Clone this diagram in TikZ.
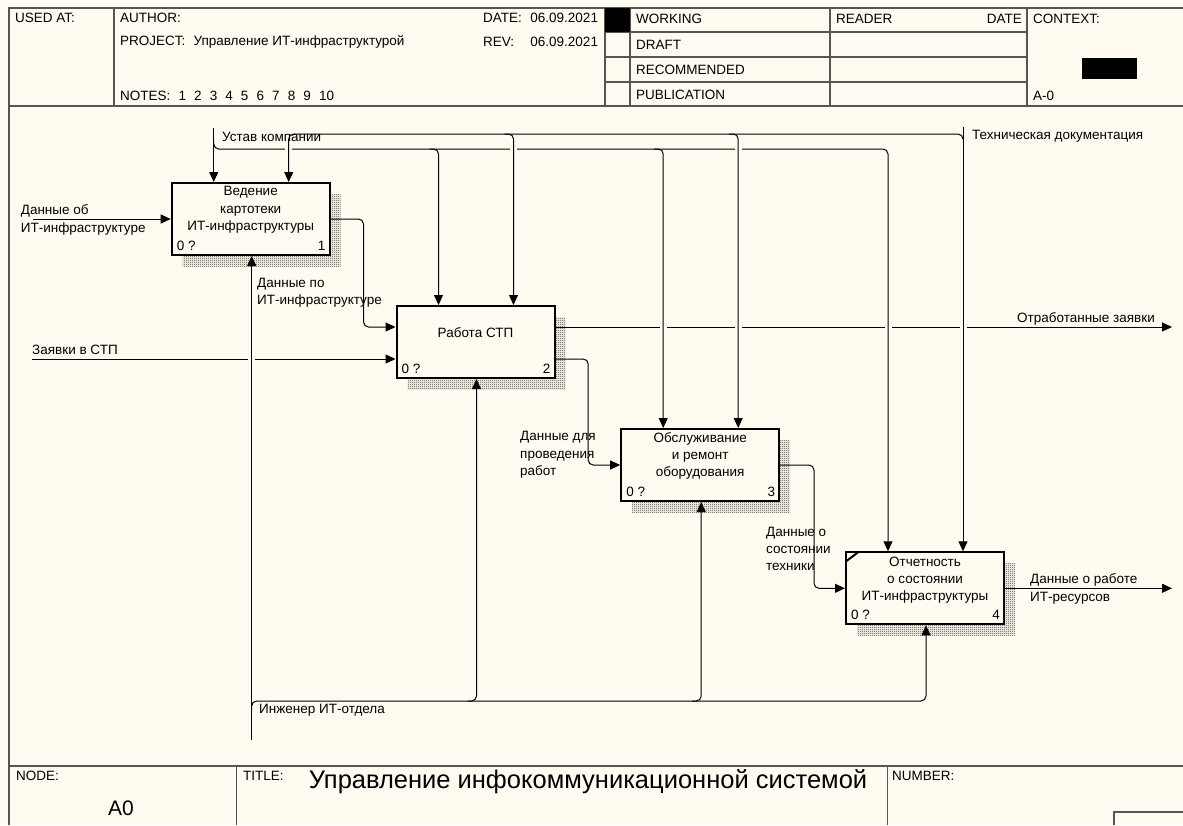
\documentclass[tikz,border=0pt]{standalone}
\usepackage{fontspec}
\setmainfont{Liberation Sans}
\usetikzlibrary{arrows.meta, calc, patterns, shadows, positioning}
\definecolor{paper}{RGB}{255,251,240}
\definecolor{rule}{RGB}{85,85,85}
\newcommand\lblfont{\fontsize{13.5}{17.3}\selectfont}
\pgfdeclarepatternformonly{checker}{\pgfqpoint{0pt}{0pt}}{\pgfqpoint{2pt}{2pt}}{\pgfqpoint{2pt}{2pt}}{%
  \pgfpathrectangle{\pgfqpoint{0pt}{0pt}}{\pgfqpoint{1pt}{1pt}}%
  \pgfpathrectangle{\pgfqpoint{1pt}{1pt}}{\pgfqpoint{1pt}{1pt}}%
  \pgfusepath{fill}}

\begin{document}
\begin{tikzpicture}[x=1pt, y=-1pt,
  txt/.style={font=\lblfont, inner sep=0pt, align=left},
  acttxt/.style={font=\lblfont, inner sep=0pt, align=center},
  actbox/.style={draw, line width=2pt, fill=paper, minimum width=158pt, minimum height=72pt,
    drop shadow={shadow xshift=11pt, shadow yshift=-11pt, opacity=1, pattern=checker, pattern color=black!75}},
  flow/.style={-{Triangle[length=10pt,width=9pt]}, line width=1pt, rounded corners=5pt},
  grid/.style={line width=1.5pt, draw=rule},
  frame/.style={line width=2.5pt, draw=rule},
  gap/.style={fill=paper}
]
  \fill[paper] (0,0) rectangle (1183,825);
  \useasboundingbox (0,0) rectangle (1183,825);

  % title block
  \draw[frame] (9,825) |- (1183,8);
  \draw[grid] (9,106) -- (1183,106) (9,766) -- (1183,766);
  \foreach \x in {114,605,630,830,1027} { \draw[grid] (\x,8) -- (\x,106); }
  \foreach \y in {32,57,82} { \draw[grid] (605,\y) -- (1027,\y); }
  \foreach \x in {236.5,887.5} { \draw[grid] (\x,766) -- (\x,825); }
  \draw[grid] (1114,825) |- (1183,812);
  \fill (605,8) rectangle (630,32);
  \fill (1082,58) rectangle (1137,79);

  \node[txt, anchor=west] (usedat) at (15,18) {USED AT:};
  \node[txt, anchor=west] (author) at (120,18) {AUTHOR:};
  \node[txt, anchor=west] (project) at (120,42) {PROJECT:\hspace{0.6em}Управление ИТ-инфраструктурой};
  \node[txt, anchor=west] (notes) at (120,96) {NOTES:\hspace{0.6em}1\hspace{0.6em}2\hspace{0.6em}3\hspace{0.6em}4\hspace{0.6em}5\hspace{0.6em}6\hspace{0.6em}7\hspace{0.6em}8\hspace{0.6em}9\hspace{0.6em}10};
  \node[txt, anchor=west] (date) at (483,18) {\makebox[3.5em][l]{DATE:}06.09.2021};
  \node[txt, anchor=west] (rev) at (483,42) {\makebox[3.5em][l]{REV:}06.09.2021};
  \node[txt, anchor=west] (working) at (636,19) {WORKING};
  \node[txt, anchor=west] (draft) at (636,44.5) {DRAFT};
  \node[txt, anchor=west] (recom) at (636,69.5) {RECOMMENDED};
  \node[txt, anchor=west] (publ) at (636,95) {PUBLICATION};
  \node[txt, anchor=west] (reader) at (836,19) {READER};
  \node[txt, anchor=east] (rdate) at (1022,19) {DATE};
  \node[txt, anchor=west] (context) at (1033,19) {CONTEXT:};
  \node[txt, anchor=west] (ctxnode) at (1033,96) {A-0};

  \node[txt, anchor=west] (nodelbl) at (16,776) {NODE:};
  \node[txt, font=\fontsize{21}{21}\selectfont] (nodeno) at (121,808) {A0};
  \node[txt, anchor=west] (titlelbl) at (243,776) {TITLE:};
  \node[txt, font=\fontsize{25.5}{25.5}\selectfont] (title) at (588,782) {Управление инфокоммуникационной системой};
  \node[txt, anchor=west] (numlbl) at (892,776) {NUMBER:};

  % activity boxes
  \node[actbox] (b1) at (250.7,219) {};
  \node[actbox] (b2) at (475.5,342) {};
  \node[actbox] (b3) at (700.2,465) {};
  \node[actbox] (b4) at (925,588.3) {};
  \draw[line width=2pt] ($(b4.north west)+(1,10)$) -- ($(b4.north west)+(13,1)$);

  \node[acttxt] (b1t) at ($(b1)+(0,-9)$) {Ведение\\картотеки\\ИТ-инфраструктуры};
  \node[acttxt] (b2t) at ($(b2)+(0,-9)$) {Работа СТП};
  \node[acttxt] (b3t) at ($(b3)+(0,-9)$) {Обслуживание\\и ремонт\\оборудования};
  \node[acttxt] (b4t) at ($(b4)+(0,-8)$) {Отчетность\\о состоянии\\ИТ-инфраструктуры};
  \foreach \b/\n in {b1/1,b2/2,b3/3,b4/4} {
    \node[txt, anchor=base west] (\b z) at ($(\b.south west)+(6,-5.5)$) {0 ?};
    \node[txt, anchor=base east] (\b n) at ($(\b.south east)+(-5,-5.5)$) {\n};
    \coordinate (\b cu) at ($(\b.north)+(-37,0)$);
    \coordinate (\b ct) at ($(\b.north)+(38,0)$);
    \coordinate (\b m) at ($(\b.south)+(1,0)$);
  }

  \coordinate (i1) at (33,219);
  \coordinate (i2) at (32,359);
  \coordinate (o1) at (1172,327);
  \coordinate (o2) at (1172,588.3);
  \coordinate (c1) at ($(b1cu)+(0,-54)$);
  \coordinate (c2) at ($(b4ct)+(0,-424)$);
  \coordinate (m1) at ($(b1m)+(0,484)$);
  \coordinate (ubus) at (0,149);
  \coordinate (tbus) at (0,134);
  \coordinate (mbus) at (0,701);

  % inputs and outputs
  \draw[flow] (i1) -- (b1.west);
  \draw[flow] (i2) -- ($(b2.west)+(0,17)$);
  \draw[flow] (b1.east) -| ($(b2.west)+(-32,-15)$) -- ($(b2.west)+(0,-15)$);
  \draw[flow] ($(b2.east)+(0,-15)$) -- (o1);
  \draw[flow] ($(b2.east)+(0,17)$) -| ($(b3.west)+(-32,0)$) -- (b3.west);
  \draw[flow] (b3.east) -| ($(b4.west)+(-31,0)$) -- (b4.west);
  \draw[flow] (b4.east) -- (o2);

  \foreach \c in {b3cu,b3ct,b4cu,b4ct} { \fill[gap] ($(\c |- o1)+(-3.5,-4)$) rectangle ($(\c |- o1)+(3.5,4)$); }
  \fill[gap] ($(m1 |- i2)+(-3.5,-4)$) rectangle ($(m1 |- i2)+(3.5,4)$);

  % controls
  \draw[flow] (c1) -- (b1cu);
  \draw[flow] ($(c1)+(0,12)$) |- (b4cu |- ubus) -- (b4cu);
  \foreach \b in {b2,b3} { \draw[flow] ($(\b cu |- ubus)+(-9,0)$) -| (\b cu); }
  \foreach \c in {b1ct,b2ct,b3ct} { \fill[gap] ($(\c |- ubus)+(-3.5,-4)$) rectangle ($(\c |- ubus)+(3.5,4)$); }
  \draw[flow] ($(c2)+(0,12)$) |- (b1ct |- tbus) -- (b1ct);
  \foreach \b in {b2,b3} { \draw[flow] ($(\b ct |- tbus)+(-9,0)$) -| (\b ct); }
  \draw[flow] (c2) -- (b4ct);

  % mechanism
  \draw[flow] (m1) -- (b1m);
  \draw[flow] ($(m1 |- mbus)+(0,9)$) |- (b4m |- mbus) -- (b4m);
  \foreach \b in {b2,b3} { \draw[flow] ($(\b m |- mbus)+(-9,0)$) -| (\b m); }

  % arrow labels
  \node[txt, anchor=west] (l1) at (20.7,220) {Данные об\\ИТ-инфраструктуре};
  \node[txt, anchor=west] (l2) at (257,293) {Данные по\\ИТ-инфраструктуре};
  \node[txt, anchor=base west] (l3) at (32,354) {Заявки в СТП};
  \node[txt, anchor=base east] (l4) at (1155,322) {Отработанные заявки};
  \node[txt, anchor=west] (l5) at (520,455) {Данные для\\проведения\\работ};
  \node[txt, anchor=west] (l6) at (766,549) {Данные о\\состоянии\\техники};
  \node[txt, anchor=west] (l7) at (1030,589) {Данные о работе\\ИТ-ресурсов};
  \node[txt, anchor=west] (l8) at (259,710) {Инженер ИТ-отдела};
  \node[txt, anchor=west] (l9) at (222,137) {Устав компании};
  \node[txt, anchor=west] (l10) at (972,136) {Техническая документация};
\end{tikzpicture}
\end{document}
